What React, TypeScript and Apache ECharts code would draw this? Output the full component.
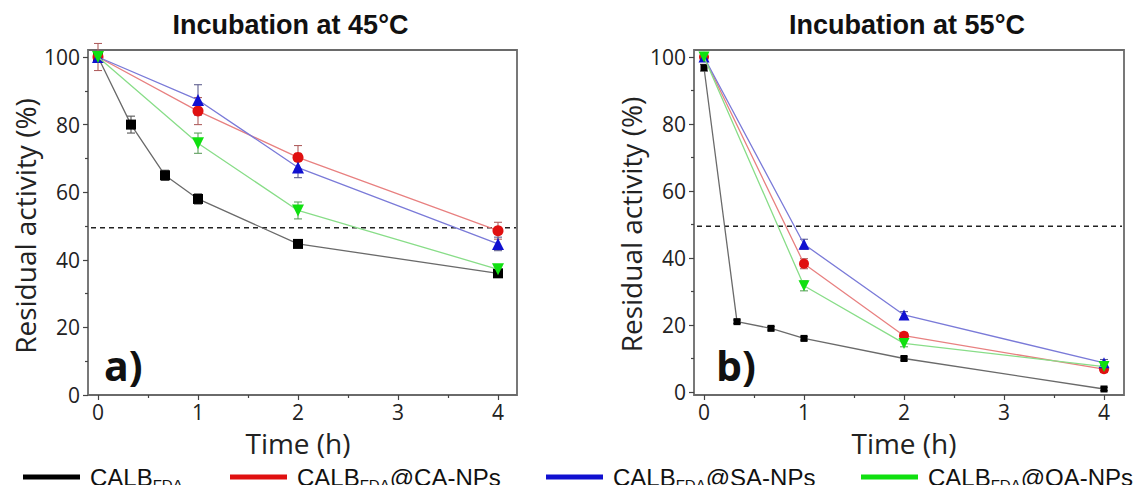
import React, { useEffect, useRef } from "react";
import * as echarts from "echarts";

// ---------- data ----------
const SERIES_NAMES = ["CALBFDA", "CALBFDA@CA-NPs", "CALBFDA@SA-NPs", "CALBFDA@OA-NPs"];
const TIME_CALB = [0, 0.33, 0.67, 1, 2, 4];
const TIME_NP = [0, 1, 2, 4];
const X_TICKS = [0, 1, 2, 3, 4];
const Y_TICKS = [0, 20, 40, 60, 80, 100];

// Incubation at 45 °C
const A_CALB = [100, 80, 65, 58, 44.7, 36];
const A_CALB_ERR = [0.5, 2.5, 1.5, 1.5, 1, 1];
const A_CA = [100, 84, 70.3, 48.6];
const A_CA_ERR = [4, 4, 3.5, 2.5];
const A_SA = [100, 87.3, 67.3, 44.7];
const A_SA_ERR = [1, 4.5, 3, 2];
const A_OA = [100, 74.5, 54.6, 37.2];
const A_OA_ERR = [1, 3, 2.5, 1];

// Incubation at 55 °C
const B_CALB = [96.8, 21, 19, 16, 10, 0.9];
const B_CALB_ERR = [1, 0.5, 0.5, 0.5, 0.5, 0.5];
const B_CA = [100, 38.3, 16.8, 6.8];
const B_CA_ERR = [1, 1.5, 1, 1];
const B_SA = [100, 44.1, 23, 8.7];
const B_SA_ERR = [1, 1.5, 1, 1];
const B_OA = [100, 31.7, 14.5, 7.6];
const B_OA_ERR = [1, 1.5, 1, 1];

const HALF_ACTIVITY = 49.5;
const FRAME_X = [-0.1, 4.2];

const TITLES = ["Incubation at 45°C", "Incubation at 55°C"];
const PANEL_TAGS = ["a)", "b)"];

// ---------- styles ----------
const MARKER_COLORS = ["#000000", "#e01010", "#1010d0", "#10e010"];
const LINE_COLORS = ["#6a6a6a", "#e88080", "#7a7ad8", "#88dd88"];
const ERR_COLORS = ["#555555", "#b06060", "#606090", "#60a060"];
const SYMBOLS = ["rect", "circle", "triangle", "triangle"];
const ROTATES = [0, 0, 0, 180];

const FONT = "'Open Sans', 'Noto Sans', sans-serif";
const ARIAL = "'Liberation Sans', Arial, sans-serif";

export default function App() {
  const ref = useRef<HTMLDivElement>(null);

  useEffect(() => {
    if (!ref.current) return;
    const chart = echarts.init(ref.current, undefined, { renderer: "svg" });

    const panels = [
      { vals: [A_CALB, A_CA, A_SA, A_OA], errs: [A_CALB_ERR, A_CA_ERR, A_SA_ERR, A_OA_ERR], sizes: [10, 11, 12, 12] },
      { vals: [B_CALB, B_CA, B_SA, B_OA], errs: [B_CALB_ERR, B_CA_ERR, B_SA_ERR, B_OA_ERR], sizes: [7, 10, 11, 11] },
    ];

    const grids = [
      { left: 98, width: 400, top: 57, height: 338 },
      { left: 704, width: 400, top: 57, height: 335 },
    ];
    const frames = [
      { x: 88, y: 50, w: 429, h: 345 },
      { x: 694, y: 50, w: 430, h: 345 },
    ];

    const axisColor = "#444";
    const xAxes = grids.map((_, gi) => ({
      type: "value",
      gridIndex: gi,
      min: X_TICKS[0],
      max: X_TICKS[X_TICKS.length - 1],
      interval: 1,
      offset: gi === 1 ? 3 : 0,
      name: "Time (h)",
      nameLocation: "middle",
      nameGap: 30,
      nameTextStyle: { fontFamily: FONT, fontSize: 28, color: "#222", lineHeight: 30 },
      axisLine: { show: false, onZero: false },
      axisTick: { show: true, inside: false, length: 5, lineStyle: { color: axisColor, width: 1.2 } },
      minorTick: { show: true, splitNumber: 2, length: 3, lineStyle: { color: axisColor, width: 1.2 } },
      axisLabel: { margin: 6, fontFamily: FONT, fontSize: 21, color: "#222", lineHeight: 22 },
      splitLine: { show: false },
      minorSplitLine: { show: false },
    }));
    const yAxes = grids.map((_, gi) => ({
      type: "value",
      gridIndex: gi,
      min: Y_TICKS[0],
      max: Y_TICKS[Y_TICKS.length - 1],
      interval: 20,
      offset: 10,
      name: "Residual activity (%)",
      nameLocation: "middle",
      nameGap: 49,
      nameTextStyle: { fontFamily: FONT, fontSize: 28, color: "#222" },
      axisLine: { show: false, onZero: false },
      axisTick: { show: true, inside: false, length: 5, lineStyle: { color: axisColor, width: 1.2 } },
      minorTick: { show: true, splitNumber: 2, length: 3, lineStyle: { color: axisColor, width: 1.2 } },
      axisLabel: { margin: 8, fontFamily: FONT, fontSize: 21, color: "#222" },
      splitLine: { show: false },
      minorSplitLine: { show: false },
    }));

    const series: any[] = [];
    panels.forEach((p, gi) => {
      // dashed 50 % line
      series.push({
        type: "custom",
        name: "half-" + gi,
        xAxisIndex: gi,
        yAxisIndex: gi,
        silent: true,
        z: 1,
        encode: { x: [0, 2], y: 1 },
        data: [[FRAME_X[0], HALF_ACTIVITY, FRAME_X[1]]],
        renderItem: (params: any, api: any) => {
          const a = api.coord([api.value(0), api.value(1)]);
          const b = api.coord([api.value(2), api.value(1)]);
          return {
            type: "line",
            shape: { x1: a[0] + 3, y1: a[1], x2: b[0] - 2, y2: b[1] },
            style: { stroke: "#222", lineWidth: 1.4, lineDash: [5, 4] },
          };
        },
      });
      p.vals.forEach((vals, k) => {
        const times = k === 0 ? TIME_CALB : TIME_NP;
        const errs = p.errs[k];
        series.push({
          type: "custom",
          name: "err-" + gi + "-" + k,
          xAxisIndex: gi,
          yAxisIndex: gi,
          silent: true,
          z: 2,
          encode: { x: 0, y: [1, 2] },
          data: times.map((t, i) => [t, vals[i] - errs[i], vals[i] + errs[i]]),
          renderItem: (params: any, api: any) => {
            const lo = api.coord([api.value(0), api.value(1)]);
            const hi = api.coord([api.value(0), api.value(2)]);
            const c = ERR_COLORS[k];
            const w = 4;
            return {
              type: "group",
              children: [
                { type: "line", shape: { x1: lo[0], y1: lo[1], x2: hi[0], y2: hi[1] }, style: { stroke: c, lineWidth: 1.1 } },
                { type: "line", shape: { x1: lo[0] - w, y1: lo[1], x2: lo[0] + w, y2: lo[1] }, style: { stroke: c, lineWidth: 1.1 } },
                { type: "line", shape: { x1: hi[0] - w, y1: hi[1], x2: hi[0] + w, y2: hi[1] }, style: { stroke: c, lineWidth: 1.1 } },
              ],
            };
          },
        });
        series.push({
          type: "line",
          name: SERIES_NAMES[k],
          xAxisIndex: gi,
          yAxisIndex: gi,
          z: 3 + k,
          data: times.map((t, i) => [t, vals[i]]),
          symbol: SYMBOLS[k],
          symbolRotate: ROTATES[k],
          symbolSize: p.sizes[k],
          showSymbol: true,
          clip: false,
          lineStyle: { color: LINE_COLORS[k], width: 1.3 },
          itemStyle: { color: MARKER_COLORS[k] },
        });
      });
    });

    const legendLefts = [23, 230, 546, 861];
    const richText = {
      a: { fontFamily: ARIAL, fontSize: 24, color: "#111", lineHeight: 30 },
      s: { fontFamily: ARIAL, fontSize: 15, color: "#111", lineHeight: 12, verticalAlign: "bottom" },
    };
    const legends = SERIES_NAMES.map((n, k) => ({
      data: [n],
      left: legendLefts[k],
      top: 465,
      padding: 0,
      icon: "rect",
      itemWidth: 57,
      itemHeight: 5,
      itemGap: 0,
      selectedMode: true,
      textStyle: { rich: richText, padding: [0, 0, 0, 5] },
      formatter: (name: string) => {
        const rest = name.slice("CALBFDA".length);
        return "{a|CALB}{s|FDA}" + (rest ? "{a|" + rest + "}" : "");
      },
    }));

    const graphic: any[] = [];
    frames.forEach((f, gi) => {
      graphic.push({
        type: "rect",
        silent: true,
        z: 0,
        shape: { x: f.x, y: f.y, width: f.w, height: f.h },
        style: { fill: "none", stroke: "#6a6a6a", lineWidth: 1.8 },
      });
      graphic.push({
        type: "text",
        x: f.x + f.w / 2 - (gi === 0 ? 12 : 2),
        y: 25,
        style: {
          text: TITLES[gi],
          fontFamily: ARIAL,
          fontWeight: "bold",
          fontSize: 27,
          fill: "#111",
          textAlign: "center",
          textVerticalAlign: "middle",
        },
      });
      graphic.push({
        type: "text",
        x: f.x + (gi === 0 ? 16 : 22),
        y: f.y + f.h - 10,
        style: {
          text: PANEL_TAGS[gi],
          fontFamily: FONT,
          fontWeight: "bold",
          fontSize: 41,
          fill: "#111",
          textAlign: "left",
          textVerticalAlign: "bottom",
        },
      });
    });

    chart.setOption({
      animation: false,
      backgroundColor: "#ffffff",
      grid: grids.map((g) => ({ ...g, containLabel: false })),
      xAxis: xAxes,
      yAxis: yAxes,
      legend: legends,
      series,
      graphic,
    });

    return () => chart.dispose();
  }, []);

  return <div ref={ref} style={{ width: 1143, height: 493, margin: -8 }} />;
}
